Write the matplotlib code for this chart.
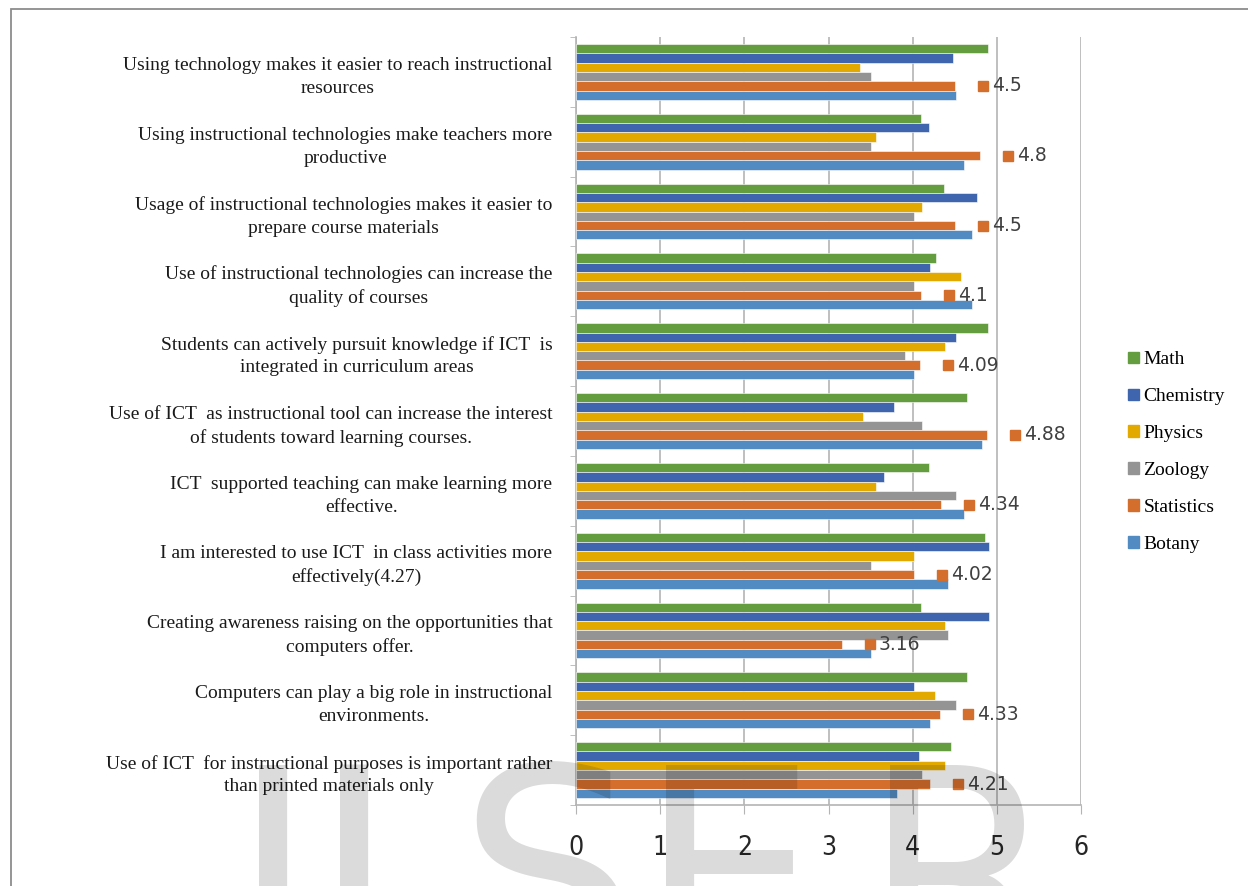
#!/usr/bin/env python3
"""Teachers' views on ICT use, mean scores per department (horizontal grouped bars)."""

import matplotlib
matplotlib.use('Agg')
import matplotlib.pyplot as plt
import matplotlib.patches as mpatches
import matplotlib.transforms as mtransforms
import numpy as np

# --- data (top to bottom as shown) ---
statements = [
    'Using technology makes it easier to reach instructional\nresources',
    'Using instructional technologies make teachers more\nproductive',
    'Usage of instructional technologies makes it easier to\nprepare course materials',
    'Use of instructional technologies can increase the\nquality of courses',
    'Students can actively pursuit knowledge if ICT  is\nintegrated in curriculum areas',
    'Use of ICT  as instructional tool can increase the interest\nof students toward learning courses.',
    'ICT  supported teaching can make learning more\neffective.',
    'I am interested to use ICT  in class activities more\neffectively(4.27)',
    'Creating awareness raising on the opportunities that\ncomputers offer.',
    'Computers can play a big role in instructional\nenvironments.',
    'Use of ICT  for instructional purposes is important rather\nthan printed materials only',
]

math = [4.89, 4.10, 4.37, 4.28, 4.89, 4.65, 4.19, 4.86, 4.10, 4.65, 4.46]
chemistry = [4.48, 4.19, 4.77, 4.21, 4.51, 3.78, 3.66, 4.91, 4.91, 4.01, 4.07]
physics = [3.38, 3.56, 4.11, 4.57, 4.39, 3.41, 3.56, 4.02, 4.39, 4.27, 4.39]
zoology = [3.50, 3.50, 4.01, 4.02, 3.91, 4.11, 4.51, 3.50, 4.42, 4.51, 4.11]
statistics = [4.5, 4.8, 4.5, 4.1, 4.09, 4.88, 4.34, 4.02, 3.16, 4.33, 4.21]
botany = [4.51, 4.61, 4.71, 4.71, 4.01, 4.82, 4.61, 4.42, 3.50, 4.21, 3.81]
stat_labels = ['4.5', '4.8', '4.5', '4.1', '4.09', '4.88', '4.34', '4.02', '3.16', '4.33', '4.21']

series = [
    ('Math', math, '#649C40'),
    ('Chemistry', chemistry, '#3E65AE'),
    ('Physics', physics, '#E2AA00'),
    ('Zoology', zoology, '#949494'),
    ('Statistics', statistics, '#D46E2D'),
    ('Botany', botany, '#528BC1'),
]

SERIF = ['Liberation Serif', 'DejaVu Serif']
SANS = ['DejaVu Sans']
GRID = '#b4b4b4'

fig = plt.figure(figsize=(12.48, 8.86), dpi=100)
ax = fig.add_axes([576 / 1248, 1 - 805 / 886, 505 / 1248, 768 / 886])

# outer chart border
fig.patches.append(mpatches.Rectangle((11 / 1248, -0.05), 1.2, 1 - 9 / 886 + 0.05,
                                      transform=fig.transFigure, fill=False,
                                      edgecolor='#8c8c8c', linewidth=1.3))

y = np.arange(len(statements))
h = 0.8 / len(series)
for k, (name, vals, col) in enumerate(series):
    ax.barh(y + (k - 2.5) * h, vals, height=h, color=col, edgecolor='white',
            linewidth=0.4, label=name, zorder=3)

# statistics data labels with legend key
stat_y = y + (4 - 2.5) * h
key_tr = mtransforms.offset_copy(ax.transData, fig=fig, x=28, y=0, units='dots')
txt_tr = mtransforms.offset_copy(ax.transData, fig=fig, x=37, y=0, units='dots')
for v, yy, lab in zip(statistics, stat_y, stat_labels):
    ax.plot([v], [yy], marker='s', markersize=7.5, color='#D46E2D',
            transform=key_tr, clip_on=False, zorder=4)
    ax.text(v, yy, lab, transform=txt_tr, ha='left', va='center',
            fontsize=13.5, color='#404040', family=SANS, clip_on=False, zorder=4)

ax.set_xlim(0, 6)
ax.set_ylim(len(statements) - 0.5, -0.5)
ax.set_xticks(range(0, 7))
ax.set_yticks(y)
ax.set_yticklabels(statements, family=SERIF, fontsize=14, color='#1a1a1a')
for lbl in ax.get_yticklabels():
    lbl.set_multialignment('center')
    lbl.set_linespacing(1.45)
ax.set_yticks(np.arange(-0.5, len(statements), 1), minor=True)

ax.tick_params(axis='y', which='major', length=0, pad=17)
ax.tick_params(axis='y', which='minor', length=4.5, color=GRID, direction='out')
ax.tick_params(axis='x', which='major', length=6.5, color=GRID, pad=15,
               labelsize=19, labelcolor='#262626')
for lbl in ax.get_xticklabels():
    lbl.set_family(SANS)
    lbl.set_fontstretch('condensed')

ax.grid(axis='x', color=GRID, linewidth=1.2, zorder=0)
ax.set_axisbelow(True)
for s in ['top', 'right']:
    ax.spines[s].set_visible(False)
for s in ['left', 'bottom']:
    ax.spines[s].set_color(GRID)
    ax.spines[s].set_linewidth(1.2)

handles = [mpatches.Patch(color=col, label=name) for name, _, col in series]
fig.legend(handles=handles, loc='center left', bbox_to_anchor=(1128 / 1248, 1 - 452 / 886),
           frameon=False, prop={'family': SERIF, 'size': 14}, handlelength=0.55,
           handleheight=0.55, handletextpad=0.25, labelspacing=1.02, borderpad=0,
           borderaxespad=0)

# faint watermark across the bottom
for ch, xpx in [('I', 231), ('J', 312), ('S', 457), ('E', 638), ('R', 862)]:
    fig.text(xpx / 1248, 1 - 756 / 886, ch, ha='left', va='top', fontsize=205,
             family=SANS, color='black', alpha=0.14, zorder=10)

plt.savefig('out.png', dpi=100)
print("Saved out.png")
